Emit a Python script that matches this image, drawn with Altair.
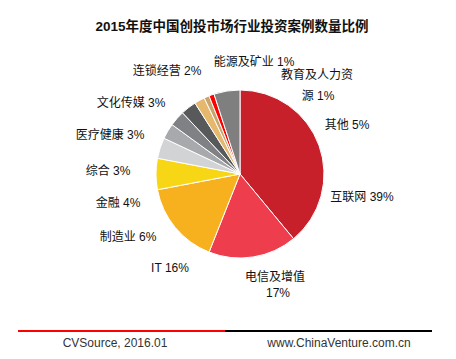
import altair as alt
import pandas as pd

title_text = "2015年度中国创投市场行业投资案例数量比例"
categories = ["互联网", "电信及增值", "IT", "制造业", "金融", "综合", "医疗健康",
              "文化传媒", "连锁经营", "能源及矿业", "教育及人力资源", "其他"]
values = [39, 17, 16, 6, 4, 3, 3, 3, 2, 1, 1, 5]
colors = ["#C8202B", "#EE3E4E", "#F7B11E", "#F7D615", "#D1D3D5", "#A7A9AC",
          "#808184", "#58595B", "#E5B86E", "#C9A46D", "#FF0000", "#7F7F7F"]
source_left = "CVSource, 2016.01"
source_right = "www.ChinaVenture.com.cn"

# label layout (annotation placement, chart pixels) — one entry per text line
label_layout = {
    "互联网": [(354, 189)],
    "电信及增值": [(267, 269), (270, 285)],
    "IT": [(162, 260)],
    "制造业": [(120, 229)],
    "金融": [(110, 195)],
    "综合": [(100, 163)],
    "医疗健康": [(102, 127)],
    "文化传媒": [(123, 95)],
    "连锁经营": [(159, 63)],
    "能源及矿业": [(246, 54)],
    "教育及人力资源": [(309, 67), (310, 88)],
    "其他": [(339, 117)],
}
label_split = {"电信及增值": 5, "教育及人力资源": 6}

FONT = "Liberation Sans, Arial, Noto Sans CJK SC"
W, H = 440, 343
CX, CY, R = 232, 166, 84

df = pd.DataFrame({"cat": categories, "value": values, "idx": list(range(len(categories)))})

rows = []
for c, v in zip(categories, values):
    full = f"{c} {v}%"
    if c in label_split:
        k = label_split[c]
        lines = [full[:k], full[k:].strip()]
    else:
        lines = [full]
    for line, (px, py) in zip(lines, label_layout[c]):
        rows.append({"text": line, "px": px, "py": py})
ldf = pd.DataFrame(rows)

pie = alt.Chart(df).mark_arc(outerRadius=R, stroke="white", strokeWidth=1).encode(
    theta=alt.Theta("value:Q", stack=True),
    color=alt.Color("cat:N", scale=alt.Scale(domain=categories, range=colors), legend=None),
    order=alt.Order("idx:Q"),
    x=alt.value(CX),
    y=alt.value(CY),
)

labels = alt.Chart(ldf).mark_text(font=FONT, fontSize=12, color="#111111",
                                  align="center", baseline="middle").encode(
    text="text:N",
    x=alt.X("px:Q", scale=None),
    y=alt.Y("py:Q", scale=None),
)

title = alt.Chart(pd.DataFrame({"t": [title_text]})).mark_text(
    font=FONT, fontSize=13.5, fontWeight="bold", color="#111111",
    align="center", baseline="middle").encode(
    text="t:N", x=alt.value(224), y=alt.value(19))

rule_red = alt.Chart(pd.DataFrame({"a": [0]})).mark_rule(color="#FF0000", strokeWidth=2).encode(
    x=alt.value(10), x2=alt.value(217), y=alt.value(323))
rule_black = alt.Chart(pd.DataFrame({"a": [0]})).mark_rule(color="#000000", strokeWidth=2).encode(
    x=alt.value(217), x2=alt.value(424), y=alt.value(323))

foot_l = alt.Chart(pd.DataFrame({"t": [source_left]})).mark_text(
    font=FONT, fontSize=12, color="#333333", align="center", baseline="middle").encode(
    text="t:N", x=alt.value(107), y=alt.value(335))
foot_r = alt.Chart(pd.DataFrame({"t": [source_right]})).mark_text(
    font=FONT, fontSize=12, color="#333333", align="center", baseline="middle").encode(
    text="t:N", x=alt.value(331), y=alt.value(335))

chart = alt.layer(pie, labels, title, rule_red, rule_black, foot_l, foot_r).properties(
    width=W, height=H, padding=0,
    autosize=alt.AutoSizeParams(type="none"),
).configure_view(stroke=None).resolve_scale(color="independent")

chart.save("out.html", embed_options={"renderer": "svg", "actions": False})
